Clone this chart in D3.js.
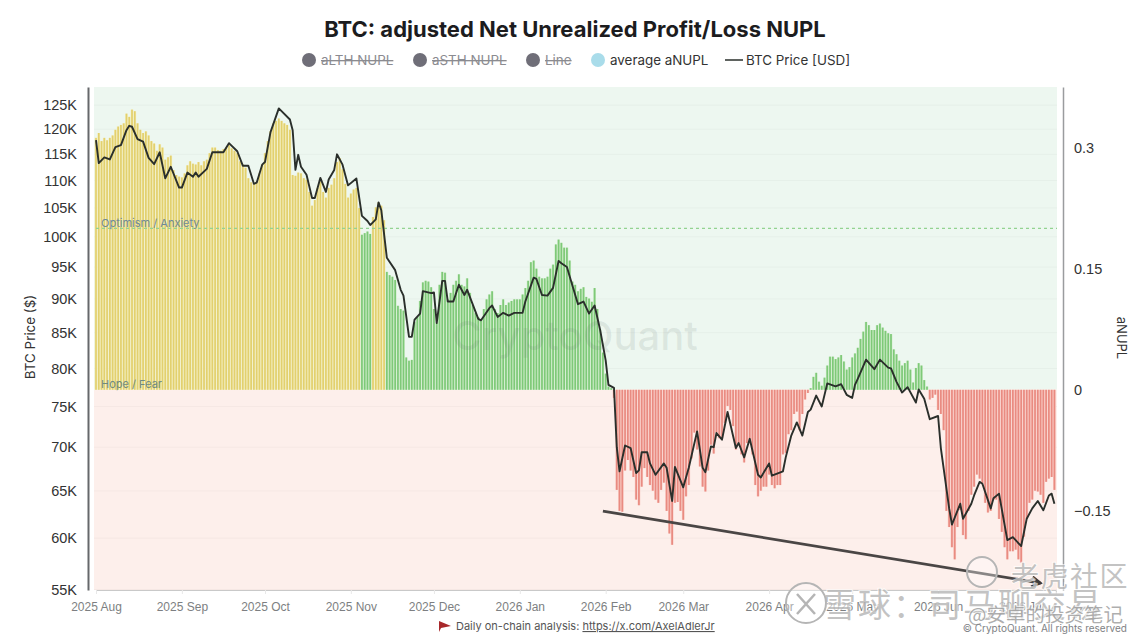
<!DOCTYPE html>
<html>
<head>
<meta charset="utf-8">
<script src="https://cdn.jsdelivr.net/npm/d3@7"></script>
<style>
    html, body { margin: 0; padding: 0; background: #fff; }
    svg { display: block; font-family: Inter, "Noto Sans", sans-serif; }
    .cjk { font-family: "Noto Sans CJK SC", sans-serif; }
</style>
</head>
<body>
<div id="plot"></div>
<script>
'use strict';

const startDate = new Date(Date.UTC(2025, 7, 1));
const lastDay = 346.5;

// daily aNUPL, one value per day from 2025 Aug 1
const aNupl = [
    .312, .318, .308, .312, .309, .312, .315, .322, .326, .328,
    .33, .342, .338, .347, .345, .33, .322, .318, .32, .315,
    .308, .305, .296, .304, .30, .285, .288, .29, .272, .266,
    .264, .263, .268, .278, .283, .28, .279, .282, .278, .283,
    .285, .293, .30, .30, .297, .296, .298, .30, .303, .299,
    .296, .293, .283, .279, .275, .262, .257, .256, .258, .268,
    .279, .293, .308, .32, .33, .333, .336, .333, .33, .328,
    .322, .266, .265, .269, .268, .262, .26, .245, .228, .235,
    .25, .258, .245, .238, .25, .254, .262, .282, .287, .273,
    .255, .238, .243, .248, .25, .225, .192, .194, .196, .193,
    .214, .226, .232, .228, .21, .146, .142, .14, .136, .104,
    .10, .098, .04, .036, .037, .084, .09, .11, .133, .135,
    .134, .127, .10, .083, .13, .146, .145, .112, .12, .13,
    .135, .143, .13, .128, .138, .12, .105, .095, .09, .087,
    .10, .112, .118, .122, .10, .095, .105, .112, .105, .108,
    .11, .112, .112, .112, .118, .126, .135, .158, .16, .15,
    .14, .138, .138, .14, .15, .155, .18, .186, .182, .176,
    .176, .16, .134, .13, .122, .125, .127, .115, .113, .109,
    .126, .10, .075, .046, .02, .004, .002, -.01, -.124, -.15,
    -.151, -.10, -.087, -.10, -.108, -.136, -.143, -.12, -.097, -.108,
    -.118, -.125, -.136, -.14, -.124, -.115, -.15, -.178, -.192, -.14,
    -.139, -.15, -.161, -.132, -.118, -.085, -.053, -.074, -.095, -.12,
    -.126, -.10, -.068, -.079, -.053, -.06, -.06, -.041, -.02, -.025,
    -.045, -.074, -.066, -.08, -.09, -.066, -.062, -.08, -.118, -.132,
    -.125, -.12, -.12, -.105, -.118, -.122, -.118, -.118, -.08, -.078,
    -.055, -.05, -.03, -.027, -.05, -.03, -.012, -.004, .002, .016,
    .021, .01, .005, .015, .03, .041, .041, .038, .04, .043,
    .035, .025, .028, .04, .045, .052, .063, .072, .084, .08,
    .074, .074, .08, .082, .077, .073, .07, .069, .05, .044,
    .036, .03, .033, .036, .025, .009, .027, .033, .03, .012,
    .004, -.012, -.01, -.006, -.025, -.03, -.05, -.15, -.17, -.195,
    -.21, -.17, -.149, -.18, -.185, -.15, -.13, -.12, -.105, -.11,
    -.116, -.14, -.152, -.15, -.136, -.136, -.16, -.176, -.195, -.21,
    -.2, -.2, -.198, -.21, -.214, -.182, -.16, -.14, -.136, -.125,
    -.126, -.13, -.14, -.114, -.11, -.108, -.124
];

// BTC price in thousands of USD, read at the turning points of the line
const priceDays = [
    0, 1, 3, 5, 7, 9, 11, 12, 13, 15, 17, 19, 21, 23, 25, 27, 30, 31, 33, 35,
    36, 37, 40, 42, 46, 48, 51, 53, 55, 57, 58, 60, 61, 63, 66, 70, 71, 72, 73, 74,
    76, 78, 79, 81, 83, 84, 86, 87, 89, 91, 94, 96, 98, 99, 101, 102, 103, 105, 108, 110,
    111, 113, 114, 115, 117, 118, 121, 122, 123, 125, 126, 127, 129, 131, 133, 134, 138, 139, 142, 143,
    145, 147, 149, 151, 154, 155, 158, 159, 161, 163, 165, 167, 168, 170, 174, 176, 178, 180, 182, 184,
    185, 187, 188, 189, 191, 193, 195, 196, 197, 199, 200, 202, 205, 206, 208, 209, 212, 214, 217, 219,
    220, 222, 223, 224, 226, 228, 231, 232, 234, 236, 239, 240, 243, 244, 248, 249, 251, 253, 255, 257,
    258, 260, 262, 264, 267, 269, 271, 273, 274, 275, 278, 281, 283, 286, 287, 289, 291, 293, 296, 297,
    299, 301, 304, 305, 308, 309, 312, 313, 316, 317, 319, 320, 323, 324, 326, 329, 331, 332, 334, 336,
    338, 340, 342, 344, 345, 346
];
const priceValues = [
    117.8, 113.3, 114.4, 114, 116.4, 116.8, 119.8, 120.7, 120.5, 118, 117.5, 114.3, 113.1, 115.4, 110.4, 112.6, 108.7, 108.7, 111.5, 110.7,
    111.5, 110.7, 112.2, 115.4, 115.4, 117.2, 115.6, 112.8, 112.8, 109.4, 109.6, 113, 113.5, 119.4, 124.3, 122, 119.8, 112, 114.9, 112.6,
    111.1, 106.8, 106.8, 110.5, 107.9, 110.2, 112, 115, 113, 109.1, 110.4, 103.6, 102.7, 102, 103, 106, 104.6, 96.5, 94.5, 91.4,
    90.5, 84.4, 84.4, 86.9, 87.8, 91.2, 90.9, 91, 86.4, 92.8, 92.8, 89.6, 89.6, 92.2, 90.6, 91.4, 87, 86.8, 88.6, 89,
    87.3, 87.9, 87.5, 87.9, 87.9, 89.6, 93.3, 93.1, 90.6, 90.5, 91.7, 96, 95.6, 95, 89.2, 89.6, 87.8, 89, 85.4, 81.1,
    77.8, 77.4, 70, 67.2, 70.2, 69.9, 67, 67.3, 69.4, 69.4, 68.1, 66.8, 68.1, 67.6, 63.9, 67.7, 65.4, 67.6, 71.9, 67.6,
    67.1, 70.1, 70, 71.7, 70.9, 74.3, 69.9, 70.5, 68.8, 71, 66.8, 66.5, 68.1, 66.7, 67.2, 68.8, 71.4, 73, 71.4, 74.3,
    74.6, 76.4, 75, 78, 77.6, 77.9, 76.5, 76.1, 77.8, 78.6, 81.2, 79.9, 81.2, 80.1, 80, 78.2, 76.8, 77.5, 75.5, 77.2,
    76, 73.4, 73.8, 69.9, 63.1, 61.4, 63.6, 62, 63.6, 64.5, 66, 65.8, 63.1, 64.2, 64.7, 59.8, 60.1, 59.8, 59.2, 62,
    63.1, 63.9, 62.9, 64.5, 64.7, 63.6
];

const priceTicks = [55, 60, 65, 70, 75, 80, 85, 90, 95, 100, 105, 110, 115, 120, 125];
const nuplTicks = [-0.15, 0, 0.15, 0.3];
const optimismLevel = 0.2;

// hand drawn trend line: [day, price]
const trendDays = [183, 341];
const trendPrices = [62.8, 55.6];

const legendItems = ['aLTH NUPL', 'aSTH NUPL', 'Line', 'average aNUPL'];
const legendX = [309, 420, 533, 598];
const legendOff = [true, true, true, false];

const svg = d3.select('#plot').append('svg').attr('width', 1148).attr('height', 642);

const plotLeft = 94, plotRight = 1057, plotTop = 87, plotBottom = 590;

const xScale = d3.scaleUtc()
    .domain([startDate, d3.utcHour.offset(startDate, lastDay * 24)])
    .range([96, 96 + 2.77 * lastDay]);
const priceScale = d3.scaleLog().domain([54.95, 128.9]).range([plotBottom, plotTop]);
const nuplScale = d3.scaleLinear().domain([-0.248, 0.375]).range([plotBottom, plotTop]);

const dayX = d => xScale(d3.utcDay.offset(startDate, d));

// backgrounds
svg.append('rect')
    .attr('x', plotLeft).attr('y', plotTop)
    .attr('width', plotRight - plotLeft).attr('height', nuplScale(0) - plotTop)
    .attr('fill', '#edf7f0');
svg.append('rect')
    .attr('x', plotLeft).attr('y', nuplScale(0))
    .attr('width', plotRight - plotLeft).attr('height', plotBottom - nuplScale(0))
    .attr('fill', '#fdefeb');

// faint grid
svg.append('g').selectAll('line').data(priceTicks).enter().append('line')
    .attr('x1', plotLeft).attr('x2', plotRight)
    .attr('y1', d => priceScale(d)).attr('y2', d => priceScale(d))
    .attr('stroke', '#000').attr('stroke-opacity', 0.03);

function barColor(v) {
    if (v < 0) return '#e98b81';
    return v >= optimismLevel ? '#e2d06e' : '#7ec978';
}
function barPale(v) {
    if (v < 0) return '#f9cdc7';
    return v >= optimismLevel ? '#f4efc0' : '#d0edca';
}

const bars = svg.append('g');
// pale layer fills the gap between the days
bars.selectAll('.pale').data(aNupl).enter().append('rect')
    .attr('class', 'pale')
    .attr('x', (d, i) => dayX(i) - 1.39)
    .attr('width', 2.77)
    .attr('y', d => Math.min(nuplScale(d), nuplScale(0)))
    .attr('height', d => Math.abs(nuplScale(d) - nuplScale(0)))
    .attr('fill', barPale);
bars.selectAll('.solid').data(aNupl).enter().append('rect')
    .attr('class', 'solid')
    .attr('x', (d, i) => dayX(i) - 0.85)
    .attr('width', 1.7)
    .attr('y', d => Math.min(nuplScale(d), nuplScale(0)))
    .attr('height', d => Math.abs(nuplScale(d) - nuplScale(0)))
    .attr('fill', barColor);

// CryptoQuant mark lies over the bars
svg.append('text')
    .attr('x', 575).attr('y', 350)
    .attr('text-anchor', 'middle')
    .attr('font-size', 40).attr('font-weight', 500)
    .attr('fill', '#5f6f6a').attr('fill-opacity', 0.13)
    .text('CryptoQuant');

// reference level
svg.append('line')
    .attr('x1', plotLeft + 2).attr('x2', plotRight)
    .attr('y1', nuplScale(optimismLevel)).attr('y2', nuplScale(optimismLevel))
    .attr('stroke', '#93d391').attr('stroke-width', 1.2).attr('stroke-dasharray', '3,3');

svg.append('text').attr('x', 101).attr('y', 227)
    .attr('font-size', 11).attr('fill', '#6f8a99').text('Optimism / Anxiety');
svg.append('text').attr('x', 101).attr('y', 388)
    .attr('font-size', 11).attr('fill', '#6f8a80').text('Hope / Fear');

// price line
const priceLine = d3.line()
    .x((d, i) => dayX(priceDays[i]))
    .y(d => priceScale(d));
svg.append('path')
    .attr('d', priceLine(priceValues))
    .attr('fill', 'none')
    .attr('stroke', '#2a2f2b')
    .attr('stroke-width', 1.9)
    .attr('stroke-linejoin', 'round');

// trend line with arrow
svg.append('defs').append('marker')
    .attr('id', 'arrow')
    .attr('viewBox', '0 0 10 10').attr('refX', 8).attr('refY', 5)
    .attr('markerWidth', 4.5).attr('markerHeight', 4.5).attr('orient', 'auto')
    .append('path')
    .attr('d', 'M1,1 L8,5 L1,9')
    .attr('fill', 'none').attr('stroke', '#3d3a3a').attr('stroke-width', 2);
svg.append('line')
    .attr('x1', dayX(trendDays[0])).attr('y1', priceScale(trendPrices[0]))
    .attr('x2', dayX(trendDays[1])).attr('y2', priceScale(trendPrices[1]))
    .attr('stroke', '#4a4645').attr('stroke-width', 2.8)
    .attr('marker-end', 'url(#arrow)');

// axes
const leftAxis = d3.axisLeft(priceScale).tickValues(priceTicks)
    .tickSize(0).tickPadding(11).tickFormat(d => d + 'K');
const leftG = svg.append('g').attr('transform', 'translate(88,0)').call(leftAxis);
leftG.select('.domain').attr('stroke', '#66686b').attr('stroke-width', 2);
leftG.selectAll('text').attr('font-size', 14.5).attr('fill', '#333').attr('font-family', 'inherit');

const rightAxis = d3.axisRight(nuplScale).tickValues(nuplTicks)
    .tickSize(0).tickPadding(11).tickFormat(d3.format('~g'));
const rightG = svg.append('g').attr('transform', 'translate(1063,0)').call(rightAxis);
rightG.select('.domain').attr('stroke', '#9a9c9e').attr('stroke-width', 1.5);
rightG.selectAll('text').attr('font-size', 14.5).attr('fill', '#333').attr('font-family', 'inherit');

const bottomAxis = d3.axisBottom(xScale)
    .tickValues(d3.utcMonth.range(startDate, new Date(Date.UTC(2026, 7, 1))))
    .tickSize(4).tickPadding(8).tickFormat(d3.utcFormat('%Y %b'));
const bottomG = svg.append('g').attr('transform', `translate(0,${plotBottom})`).call(bottomAxis);
bottomG.select('.domain').attr('stroke', '#c9c9c9');
bottomG.selectAll('line').attr('stroke', '#e8e8e8');
bottomG.selectAll('text').attr('font-size', 12).attr('fill', '#7d7f82').attr('font-family', 'inherit');

svg.append('text')
    .attr('transform', 'translate(35,337) rotate(-90)')
    .attr('text-anchor', 'middle').attr('font-size', 13.4).attr('fill', '#333')
    .text('BTC Price ($)');
svg.append('text')
    .attr('transform', 'translate(1117,338) rotate(90)')
    .attr('text-anchor', 'middle').attr('font-size', 13).attr('fill', '#333')
    .text('aNUPL');

// title and legend
svg.append('text')
    .attr('x', 575).attr('y', 37)
    .attr('text-anchor', 'middle')
    .attr('font-size', 22).attr('font-weight', 700).attr('fill', '#1c1c1e')
    .text('BTC: adjusted Net Unrealized Profit/Loss NUPL');

const legend = svg.append('g').selectAll('g').data(legendItems).enter().append('g')
    .attr('transform', (d, i) => `translate(${legendX[i]},60)`);
legend.append('circle')
    .attr('r', 7)
    .attr('fill', (d, i) => legendOff[i] ? '#6f6e78' : '#a9dcea');
legend.append('text')
    .attr('x', 12).attr('y', 5)
    .attr('font-size', 13.4)
    .attr('fill', (d, i) => legendOff[i] ? '#8b8b90' : '#333')
    .attr('text-decoration', (d, i) => legendOff[i] ? 'line-through' : null)
    .text(d => d);

svg.append('line')
    .attr('x1', 725).attr('x2', 743).attr('y1', 60).attr('y2', 60)
    .attr('stroke', '#2a2f2b').attr('stroke-width', 1.5);
svg.append('text').attr('x', 746).attr('y', 65)
    .attr('font-size', 13.4).attr('fill', '#333').text('BTC Price [USD]');

// footer
svg.append('path')
    .attr('d', 'M439,621 L451,626 L441,628 L439,632 Z')
    .attr('fill', '#a8282b');
const footer = svg.append('text').attr('x', 456).attr('y', 630)
    .attr('font-size', 11).attr('fill', '#555');
footer.append('tspan').text('Daily on-chain analysis: ');
footer.append('tspan').attr('text-decoration', 'underline').text('https://x.com/AxelAdlerJr');

// pasted over the picture by the sites that reposted it
const marks = svg.append('g').attr('class', 'cjk')
    .attr('fill', '#a9a9a9').attr('fill-opacity', 0.7)
    .attr('stroke', '#fff').attr('stroke-opacity', 0.65).attr('stroke-width', 2)
    .attr('paint-order', 'stroke');
marks.append('text').attr('x', 1011).attr('y', 587)
    .attr('font-size', 28).attr('letter-spacing', 1.5).text('老虎社区');
marks.append('text').attr('x', 823).attr('y', 617)
    .attr('font-size', 33).attr('letter-spacing', 2).text('雪球：司马聊交易');
marks.append('text').attr('x', 968).attr('y', 622)
    .attr('font-size', 19.5).attr('fill', '#8a8a8a').text('@安卓的投资笔记');
[[982, 572, 15], [806, 603, 20]].forEach(c => {
    svg.append('circle')
        .attr('cx', c[0]).attr('cy', c[1]).attr('r', c[2])
        .attr('fill', '#fff').attr('fill-opacity', 0.35)
        .attr('stroke', '#b5b5b5').attr('stroke-width', 2);
});
svg.append('path')
    .attr('d', 'M797,594 L806,604 L797,614 M815,594 L806,604 L815,614')
    .attr('fill', 'none').attr('stroke', '#b5b5b5').attr('stroke-width', 2.5);

svg.append('text').attr('x', 1127).attr('y', 632)
    .attr('text-anchor', 'end').attr('font-size', 10).attr('fill', '#808285')
    .text('© CryptoQuant. All rights reserved');
</script>
</body>
</html>
